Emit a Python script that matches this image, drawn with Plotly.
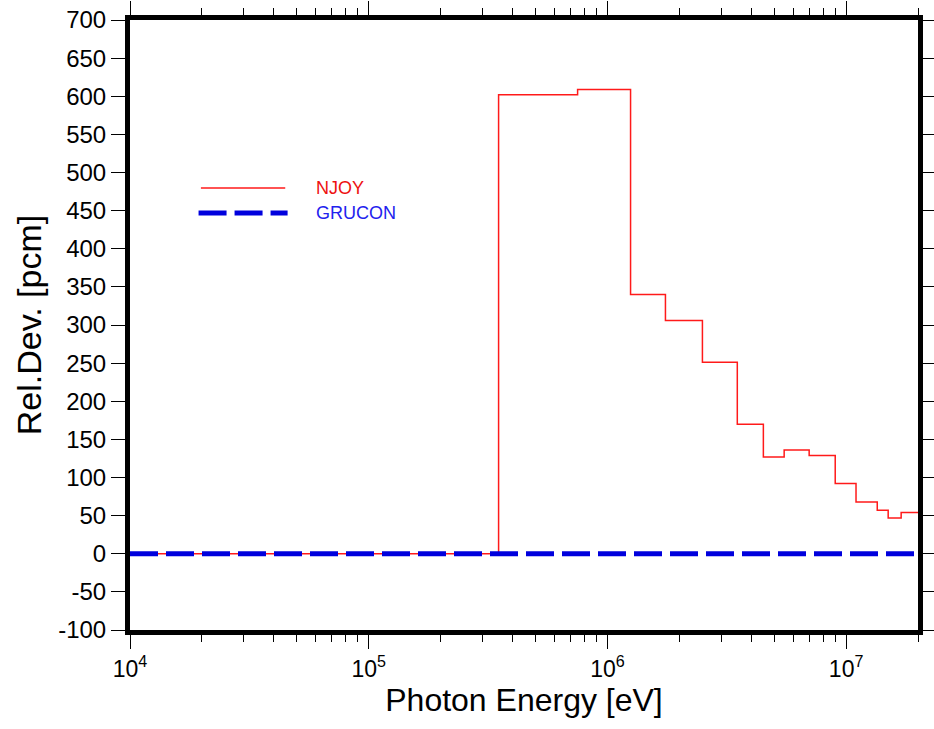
import numpy as np
import plotly.graph_objects as go

# Group boundaries (eV) and NJOY relative deviation (pcm) per group
edges = [1e4, 3.5e5, 7.5e5, 1.25e6, 1.75e6, 2.5e6, 3.5e6, 4.5e6, 5.5e6, 7e6,
         9e6, 1.1e7, 1.35e7, 1.5e7, 1.7e7, 2e7]
njoy = [0, 602, 609, 340, 306, 251, 170, 127, 136, 129, 92, 68, 57, 47, 54]
grucon_x = [1e4, 2e7]
grucon_y = [0, 0]

y_ticks = list(range(-100, 701, 50))
y_tick_text = [str(v) for v in y_ticks]
x_major = [1e4, 1e5, 1e6, 1e7]
x_major_text = ["10<sup>4</sup>", "10<sup>5</sup>", "10<sup>6</sup>", "10<sup>7</sup>"]
x_minor = [m * 10 ** d for d in range(4, 8) for m in range(2, 10) if m * 10 ** d <= 2e7]

# build step coordinates
sx, sy = [], []
for i, v in enumerate(njoy):
    sx += [edges[i], edges[i + 1]]
    sy += [v, v]

fig = go.Figure()
fig.add_trace(go.Scatter(x=sx, y=sy, mode="lines", name="NJOY",
                         line=dict(color="#ff1a1a", width=1.5)))
fig.add_trace(go.Scatter(x=grucon_x, y=grucon_y, mode="lines", name="GRUCON",
                         line=dict(color="#0000dd", width=5, dash="28px,8px")))

font_family = "Liberation Sans, Arial, sans-serif"

fig.update_layout(
    width=934, height=729,
    margin=dict(l=130, r=16, t=20, b=99),
    paper_bgcolor="white", plot_bgcolor="white",
    showlegend=False,
    font=dict(family=font_family, color="black"),
)
fig.update_xaxes(
    type="log", range=[4, np.log10(2e7)], automargin=False,
    tickvals=x_major, ticktext=x_major_text,
    ticks="outside", ticklen=14, tickwidth=1, tickcolor="black",
    minor=dict(tickvals=x_minor, ticks="outside", ticklen=7, tickwidth=1, tickcolor="black"),
    showgrid=False, zeroline=False,
    showline=True, linewidth=5, linecolor="black", mirror="ticks",
    tickfont=dict(size=23, family=font_family),
    title=dict(text="Photon Energy [eV]", font=dict(size=32, family=font_family), standoff=10),
)
fig.update_yaxes(
    range=[-100, 700], automargin=False,
    tickvals=y_ticks, ticktext=y_tick_text,
    ticks="outside", ticklen=14, tickwidth=1, tickcolor="black",
    showgrid=False, zeroline=False,
    showline=True, linewidth=5, linecolor="black", mirror="ticks",
    tickfont=dict(size=24, family=font_family),
    title=dict(text="Rel.Dev. [pcm]", font=dict(size=34, family=font_family), standoff=8),
)

# legend drawn manually
fig.add_shape(type="line", xref="paper", yref="paper", x0=0.090, x1=0.197, y0=0.7246, y1=0.7246,
              line=dict(color="#ff1a1a", width=1.5))
fig.add_shape(type="line", xref="paper", yref="paper", x0=0.087, x1=0.200, y0=0.6836, y1=0.6836,
              line=dict(color="#0000dd", width=5, dash="28px,8px"))
fig.add_annotation(xref="paper", yref="paper", x=0.233, y=0.7246, text="NJOY", showarrow=False,
                   xanchor="left", yanchor="middle", font=dict(size=18, color="#ee1111", family=font_family))
fig.add_annotation(xref="paper", yref="paper", x=0.233, y=0.6836, text="GRUCON", showarrow=False,
                   xanchor="left", yanchor="middle", font=dict(size=18, color="#2222ee", family=font_family))

fig.write_html("out.html")
